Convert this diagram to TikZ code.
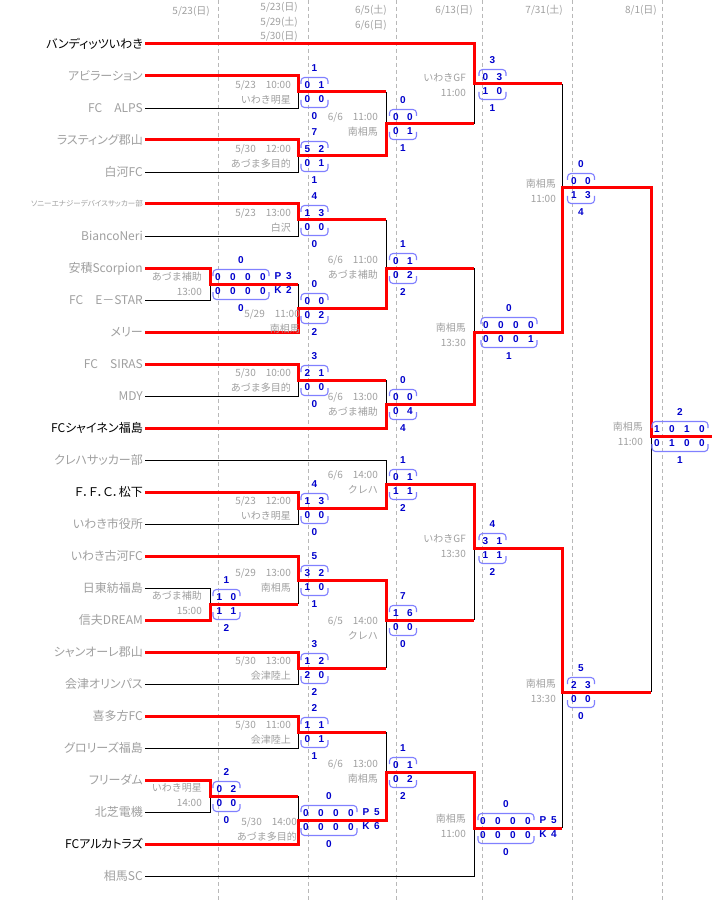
\documentclass[tikz,border=0pt]{standalone}
\usepackage{fontspec}
\setmainfont{Noto Sans CJK JP}
\newfontfamily\namefont[CharacterWidth=AlternateProportional]{Noto Sans CJK JP}
\newfontfamily\digitfont{Liberation Sans}
\usetikzlibrary{positioning}
\definecolor{pale}{HTML}{A0A0A0}
\definecolor{scoreblue}{HTML}{0000CC}
\definecolor{bracecol}{HTML}{8080FF}
\definecolor{gridcol}{HTML}{B8B8B8}
\tikzset{
  %Define style for team names
  teamname/.style={
    anchor=east,
    inner sep=2pt,
    font=\namefont\fontsize{12}{12}\selectfont,
    text height=9.2pt,
    text depth=0pt},
  palename/.style={teamname, text=pale},
  darkname/.style={teamname, text=black},
  smallname/.style={teamname, text=pale,
    font=\namefont\fontsize{7.5}{8}\selectfont, text height=5.8pt},
  % Define style for dates and venues
  venue/.style={
    anchor=east,
    inner sep=0pt,
    text=pale,
    font=\fontsize{10}{10}\selectfont,
    text height=7.6pt,
    text depth=0pt},
  header/.style={venue},
  % Define style for scores
  score/.style={inner sep=0pt, text=scoreblue,
    font=\digitfont\bfseries\fontsize{10}{10}\selectfont},
  % Define line styles
  won/.style={draw=red, line width=3pt},
  lost/.style={draw=black, line width=0.9pt},
  brace/.style={draw=bracecol, line width=1.1pt, rounded corners=3.5pt},
  datecol/.style={draw=gridcol, line width=0.8pt, dash pattern=on 4pt off 3pt}
}
% score box: name, digits, left x, y, top total, upper, lower, bottom total
\newcommand{\scorebox}[8]{%
  \ifnum#2=2 \def\sbw{27}\def\sbs{14}\def\sbo{6.5}\else\def\sbw{56}\def\sbs{15}\def\sbo{5}\fi
  \draw[brace] (#3,#4-8) |- (#3+\sbw,#4-14.5) -- (#3+\sbw,#4-8);
  \draw[brace] (#3,#4+8) |- (#3+\sbw,#4+15.5) -- (#3+\sbw,#4+8);
  \node[score] (#1-top) at (#3+\sbw/2,#4-24) {#5};
  \node[score] (#1-bot) at (#3+\sbw/2,#4+24) {#8};
  \foreach \sv [count=\sc] in {#6}
    \node[score] (#1-u\sc) at (#3+\sbo+\sbs*\sc-\sbs,#4-7) {\sv};
  \foreach \sv [count=\sc] in {#7}
    \node[score] (#1-l\sc) at (#3+\sbo+\sbs*\sc-\sbs,#4+7) {\sv};
}
% penalty kicks: name, left x, y, upper, lower
\newcommand{\pk}[5]{%
  \node[score] (#1-p) at (#2+65,#3-8) {P};
  \node[score] (#1-pu) at (#2+76,#3-8) {#4};
  \node[score] (#1-k) at (#2+65,#3+6) {K};
  \node[score] (#1-pl) at (#2+76,#3+6) {#5};
}
% venue: name, right x, y, first line, second line
\newcommand{\venue}[5]{%
  \node[venue] (#1-v1) at (#2,#3) {#4};
  \node[venue, below=6.4pt of #1-v1.south east, anchor=north east] (#1-v2) {#5};
}
\begin{document}
\begin{tikzpicture}[x=1pt,y=-1pt]
  \useasboundingbox[fill=white] (0,0) rectangle (725,909);
  \foreach \x in {218,308,396,482,572,662}
    \draw[datecol] (\x,0) -- (\x,902);
  % dates
  \node[header] (d1) at (210,11) {5/23(日)};
  \node[header] (d2a) at (298,7) {5/23(日)};
  \node[header, below=6.4pt of d2a.south east, anchor=north east] (d2b) {5/29(土)};
  \node[header, below=6.4pt of d2b.south east, anchor=north east] (d2c) {5/30(日)};
  \node[header] (d3a) at (387,10) {6/5(土)};
  \node[header, below=6.4pt of d3a.south east, anchor=north east] (d3b) {6/6(日)};
  \node[header] (d4) at (473,10) {6/13(日)};
  \node[header] (d5) at (563,10) {7/31(土)};
  \node[header] (d6) at (657,10) {8/1(日)};
  % teams
  \foreach \name/\look [count=\i] in {
      バンディッツいわき/darkname, アビラーション/palename, FC　ALPS/palename,
      ラスティング郡山/palename, 白河FC/palename,
      ソニーエナジーデバイスサッカー部/smallname, BiancoNeri/palename,
      安積Scorpion/palename, FC　E－STAR/palename, メリー/palename,
      FC　SIRAS/palename, MDY/palename, FCシャイネン福島/darkname,
      クレハサッカー部/palename, Ｆ．Ｆ．Ｃ．松下/darkname, いわき市役所/palename,
      いわき古河FC/palename, 日東紡福島/palename, 信夫DREAM/palename,
      シャンオーレ郡山/palename, 会津オリンパス/palename, 喜多方FC/palename,
      グロリーズ福島/palename, フリーダム/palename, 北芝電機/palename,
      FCアルカトラズ/darkname, 相馬SC/palename}
    \node[\look] (t\i) at (145,{44+32*(\i-1)}) {\name};
  % matches
  \coordinate (r1a) at (210,284);
  \coordinate (r1b) at (210,604);
  \coordinate (r1c) at (210,796);
  \coordinate (r2a) at (298,92);
  \coordinate (r2b) at (298,156);
  \coordinate (r2c) at (298,220);
  \coordinate (r2d) at (298,308);
  \coordinate (r2e) at (298,380);
  \coordinate (r2f) at (298,508);
  \coordinate (r2g) at (298,580);
  \coordinate (r2h) at (298,668);
  \coordinate (r2i) at (298,732);
  \coordinate (r2j) at (298,820);
  \coordinate (r3a) at (386,124);
  \coordinate (r3b) at (386,268);
  \coordinate (r3c) at (386,404);
  \coordinate (r3d) at (386,484);
  \coordinate (r3e) at (386,620);
  \coordinate (r3f) at (386,772);
  \coordinate (r4a) at (474,84);
  \coordinate (r4b) at (474,332);
  \coordinate (r4c) at (474,548);
  \coordinate (r4d) at (474,828);
  \coordinate (r5a) at (562,188);
  \coordinate (r5b) at (562,692);
  \coordinate (fin) at (651,436);
  \coordinate (champ) at (712,436);
  % beaten
  \draw[lost] (t3.east) -| (r2a);
  \draw[lost] (t5.east) -| (r2b);
  \draw[lost] (t7.east) -| (r2c);
  \draw[lost] (t9.east) -| (r1a);
  \draw[lost] (t12.east) -| (r2e);
  \draw[lost] (t14.east) -| (r3d);
  \draw[lost] (t16.east) -| (r2f);
  \draw[lost] (t18.east) -| (r1b);
  \draw[lost] (t21.east) -| (r2h);
  \draw[lost] (t23.east) -| (r2i);
  \draw[lost] (t25.east) -| (r1c);
  \draw[lost] (t27.east) -| (r4d);
  \draw[lost] (r2a -| r3a) -- (r3a);
  \draw[lost] (r3a -| r4a) -- (r4a);
  \draw[lost] (r4a -| r5a) -- (r5a);
  \draw[lost] (r2c -| r3b) -- (r3b);
  \draw[lost] (r1a -| r2d) -- (r2d);
  \draw[lost] (r3b -| r4b) -- (r4b);
  \draw[lost] (r2e -| r3c) -- (r3c);
  \draw[lost] (r1b -| r2g) -- (r2g);
  \draw[lost] (r2h -| r3e) -- (r3e);
  \draw[lost] (r3e -| r4c) -- (r4c);
  \draw[lost] (r2i -| r3f) -- (r3f);
  \draw[lost] (r1c -| r2j) -- (r2j);
  \draw[lost] (r4d -| r5b) -- (r5b);
  \draw[lost] (r5b -| fin) -- (fin);
  % winning runs
  \draw[won] (t1.east) -| (r4a) -- (r4a -| r5a);
  \draw[won] (t2.east) -| (r2a) -- (r2a -| r3a);
  \draw[won] (t4.east) -| (r2b) -| (r3a) -- (r3a -| r4a);
  \draw[won] (t6.east) -| (r2c) -- (r2c -| r3b);
  \draw[won] (t8.east) -| (r1a) -- (r1a -| r2d);
  \draw[won] (t10.east) -| (r2d) -| (r3b) -- (r3b -| r4b);
  \draw[won] (t11.east) -| (r2e) -- (r2e -| r3c);
  \draw[won] (t13.east) -| (r3c) -| (r4b) -| (r5a) -| (fin) -- (champ);
  \draw[won] (t15.east) -| (r2f) -| (r3d) -| (r4c) -| (r5b) -- (r5b -| fin);
  \draw[won] (t17.east) -| (r2g) -| (r3e) -- (r3e -| r4c);
  \draw[won] (t19.east) -| (r1b) -- (r1b -| r2g);
  \draw[won] (t20.east) -| (r2h) -- (r2h -| r3e);
  \draw[won] (t22.east) -| (r2i) -- (r2i -| r3f);
  \draw[won] (t24.east) -| (r1c) -- (r1c -| r2j);
  \draw[won] (t26.east) -| (r2j) -| (r3f) -| (r4d) -- (r4d -| r5b);
  % venues
  \venue{r1a}{202}{277}{あづま補助}{13:00}
  \venue{r1b}{202}{596}{あづま補助}{15:00}
  \venue{r1c}{202}{788}{いわき明星}{14:00}
  \venue{r2a}{291}{85}{5/23　10:00}{いわき明星}
  \venue{r2b}{291}{149}{5/30　12:00}{あづま多目的}
  \venue{r2c}{291}{213}{5/23　13:00}{白沢}
  \venue{r2d}{300}{314}{5/29　11:00}{南相馬}
  \venue{r2e}{291}{373}{5/30　10:00}{あづま多目的}
  \venue{r2f}{291}{501}{5/23　12:00}{いわき明星}
  \venue{r2g}{291}{573}{5/29　13:00}{南相馬}
  \venue{r2h}{291}{661}{5/30　13:00}{会津陸上}
  \venue{r2i}{291}{725}{5/30　11:00}{会津陸上}
  \venue{r2j}{297}{822}{5/30　14:00}{あづま多目的}
  \venue{r3a}{378}{117}{6/6　11:00}{南相馬}
  \venue{r3b}{378}{260}{6/6　11:00}{あづま補助}
  \venue{r3c}{378}{397}{6/6　13:00}{あづま補助}
  \venue{r3d}{378}{475}{6/6　14:00}{クレハ}
  \venue{r3e}{378}{621}{6/5　14:00}{クレハ}
  \venue{r3f}{378}{764}{6/6　13:00}{南相馬}
  \venue{r4a}{466}{78}{いわきGF}{11:00}
  \venue{r4b}{466}{328}{南相馬}{13:30}
  \venue{r4c}{466}{539}{いわきGF}{13:30}
  \venue{r4d}{466}{819}{南相馬}{11:00}
  \venue{r5a}{556}{184}{南相馬}{11:00}
  \venue{r5b}{556}{684}{南相馬}{13:30}
  \venue{fin}{643}{427}{南相馬}{11:00}
  % scores
  \scorebox{r1a}{4}{213}{284}{0}{0,0,0,0}{0,0,0,0}{0}
  \pk{r1a}{213}{284}{3}{2}
  \scorebox{r1b}{2}{213}{604}{1}{1,0}{1,1}{2}
  \scorebox{r1c}{2}{213}{796}{2}{0,2}{0,0}{0}
  \scorebox{r2a}{2}{301}{92}{1}{0,1}{0,0}{0}
  \scorebox{r2b}{2}{301}{156}{7}{5,2}{0,1}{1}
  \scorebox{r2c}{2}{301}{220}{4}{1,3}{0,0}{0}
  \scorebox{r2d}{2}{301}{308}{0}{0,0}{0,2}{2}
  \scorebox{r2e}{2}{301}{380}{3}{2,1}{0,0}{0}
  \scorebox{r2f}{2}{301}{508}{4}{1,3}{0,0}{0}
  \scorebox{r2g}{2}{301}{580}{5}{3,2}{1,0}{1}
  \scorebox{r2h}{2}{301}{668}{3}{1,2}{2,0}{2}
  \scorebox{r2i}{2}{301}{732}{2}{1,1}{0,1}{1}
  \scorebox{r2j}{4}{301}{820}{0}{0,0,0,0}{0,0,0,0}{0}
  \pk{r2j}{301}{820}{5}{6}
  \scorebox{r3a}{2}{389.5}{124}{0}{0,0}{0,1}{1}
  \scorebox{r3b}{2}{389.5}{268}{1}{0,1}{0,2}{2}
  \scorebox{r3c}{2}{389.5}{404}{0}{0,0}{0,4}{4}
  \scorebox{r3d}{2}{389.5}{484}{1}{0,1}{1,1}{2}
  \scorebox{r3e}{2}{389.5}{620}{7}{1,6}{0,0}{0}
  \scorebox{r3f}{2}{389.5}{772}{1}{0,1}{0,2}{2}
  \scorebox{r4a}{2}{479}{84}{3}{0,3}{1,0}{1}
  \scorebox{r4b}{4}{481}{332}{0}{0,0,0,0}{0,0,0,1}{1}
  \scorebox{r4c}{2}{479}{548}{4}{3,1}{1,1}{2}
  \scorebox{r4d}{4}{478}{828}{0}{0,0,0,0}{0,0,0,0}{0}
  \pk{r4d}{478}{828}{5}{4}
  \scorebox{r5a}{2}{567.5}{188}{0}{0,0}{1,3}{4}
  \scorebox{r5b}{2}{567.5}{692}{5}{2,3}{0,0}{0}
  \scorebox{fin}{4}{652}{436}{2}{1,0,1,0}{0,1,0,0}{1}
\end{tikzpicture}
\end{document}
